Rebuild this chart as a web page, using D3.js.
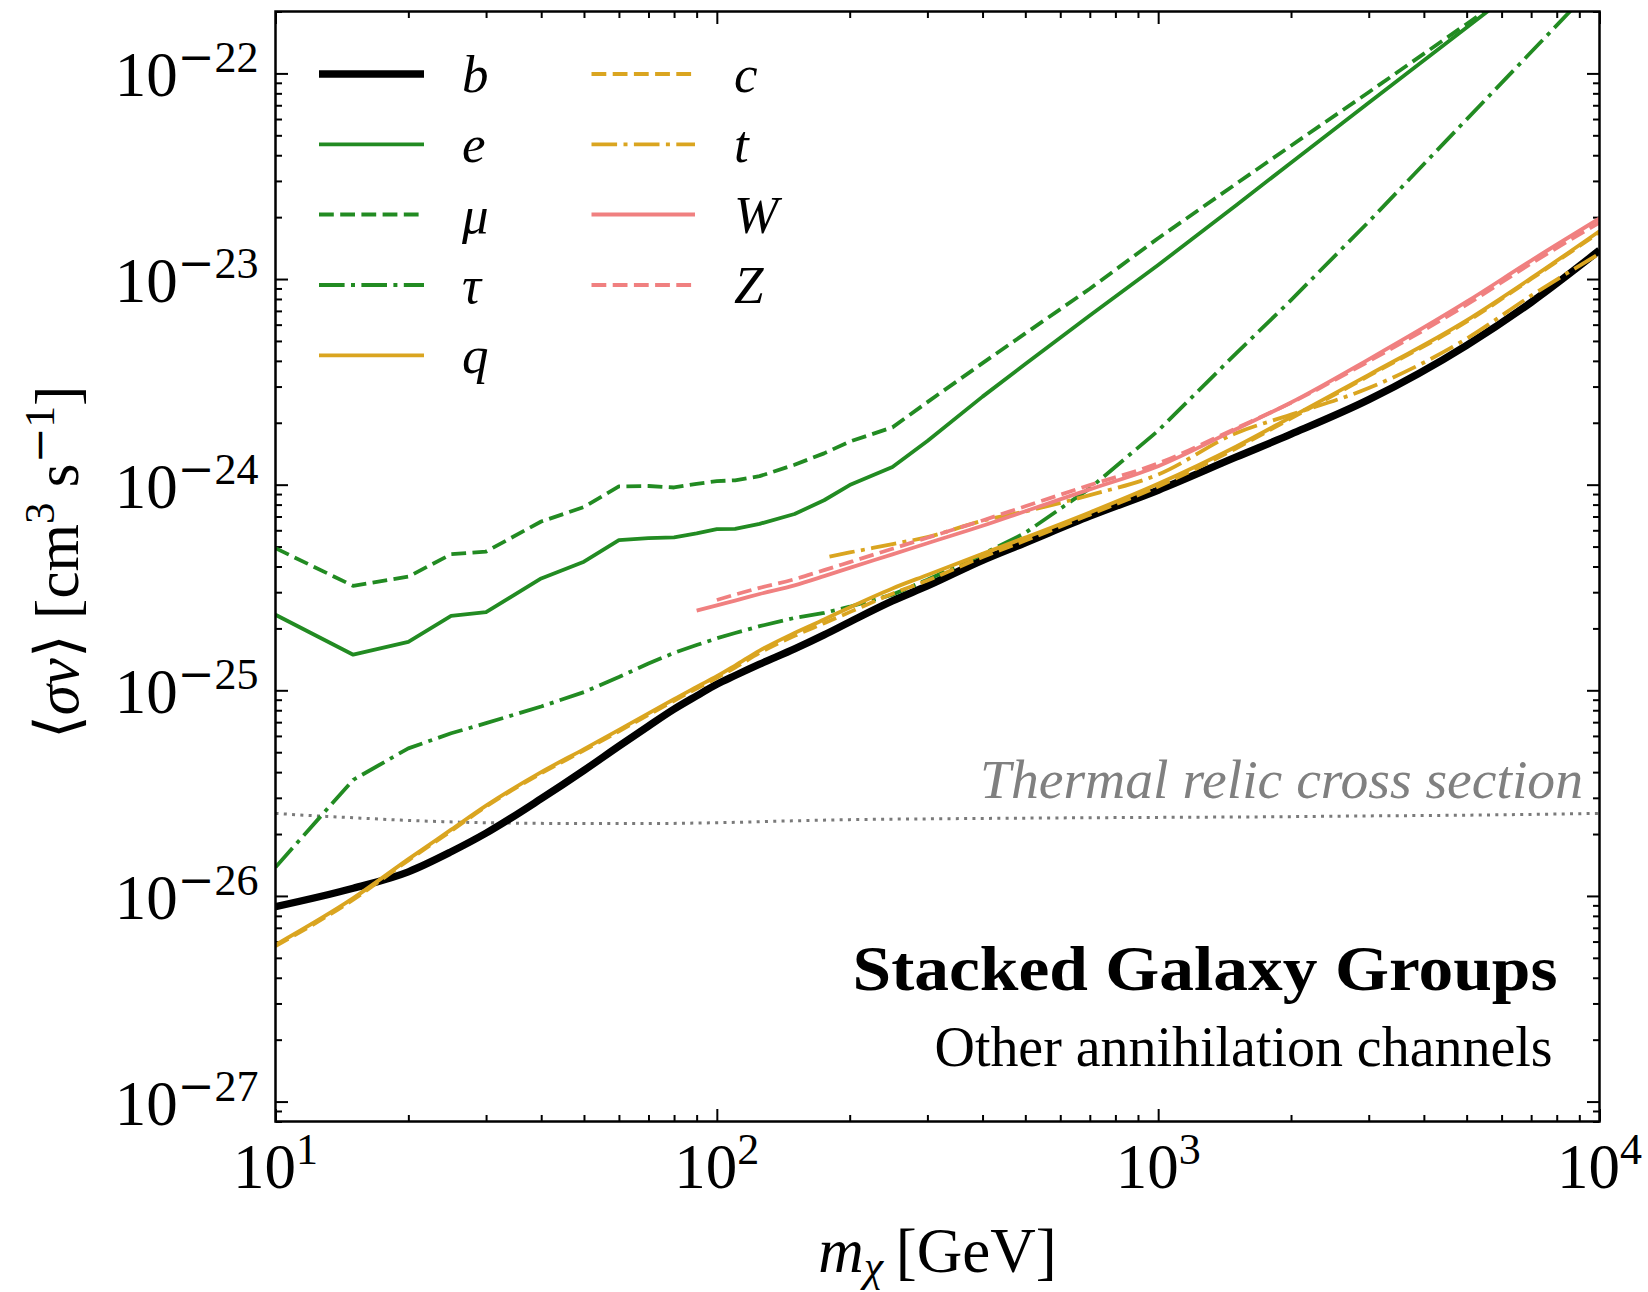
<!DOCTYPE html>
<html>
<head>
<meta charset="utf-8">
<script src="https://cdn.jsdelivr.net/npm/d3@7"></script>
<style>
  html, body { margin: 0; padding: 0; background: #ffffff; }
  svg { display: block; }
</style>
</head>
<body>
<svg id="chart" width="1648" height="1292"></svg>
<script>
// ---- Data: 95% C.L. limits on <sigma v> [cm^3 s^-1] vs dark-matter mass [GeV] ----
const massGrid = [10, 15, 20, 25, 30, 40, 50, 60, 70, 80, 90, 100, 110, 125, 150, 175, 200,
                  250, 300, 400, 500, 700, 1000, 1500, 2000, 3000, 5000, 7000, 10000];

const sigmaB = [8.87e-27, 1.09e-26, 1.31e-26, 1.64e-26, 2.02e-26, 2.97e-26, 4.08e-26, 5.35e-26,
                6.7e-26, 8.1e-26, 9.4e-26, 1.07e-25, 1.18e-25, 1.34e-25, 1.59e-25, 1.86e-25, 2.15e-25,
                2.72e-25, 3.22e-25, 4.29e-25, 5.22e-25, 7.03e-25, 9.4e-25, 1.36e-24, 1.76e-24,
                2.59e-24, 4.76e-24, 7.7e-24, 1.38e-23];

const sigmaE = [2.33e-25, 1.49e-25, 1.72e-25, 2.30e-25, 2.40e-25, 3.50e-25, 4.22e-25, 5.38e-25,
                5.50e-25, 5.54e-25, 5.80e-25, 6.08e-25, 6.10e-25, 6.45e-25, 7.20e-25, 8.40e-25, 9.95e-25,
                1.22e-24, 1.63e-24, 2.68e-24, 3.86e-24, 6.64e-24, 1.17e-23, 2.28e-23, 3.68e-23,
                7.2e-23, 1.67e-22, 2.92e-22, 5.25e-22];

const sigmaMu = [4.91e-25, 3.22e-25, 3.57e-25, 4.59e-25, 4.73e-25, 6.62e-25, 7.78e-25, 9.80e-25,
                 9.85e-25, 9.69e-25, 1.01e-24, 1.04e-24, 1.05e-24, 1.10e-24, 1.25e-24, 1.42e-24, 1.62e-24,
                 1.90e-24, 2.52e-24, 3.90e-24, 5.44e-24, 8.97e-24, 1.58e-23, 2.90e-23, 4.45e-23,
                 8.1e-23, 1.74e-22, 2.9e-22, 4.9e-22];

const sigmaTau = [1.38e-26, 3.67e-26, 5.22e-26, 6.18e-26, 6.92e-26, 8.34e-26, 9.8e-26, 1.16e-25,
                  1.35e-25, 1.52e-25, 1.66e-25, 1.79e-25, 1.90e-25, 2.05e-25, 2.25e-25, 2.38e-25, 2.55e-25,
                  2.92e-25, 3.45e-25, 4.59e-25, 5.83e-25, 9.6e-25, 1.83e-24, 4.34e-24, 7.9e-24,
                  1.9e-23, 5.98e-23, 1.27e-22, 2.83e-22];

const sigmaQ = [5.78e-27, 9.75e-27, 1.51e-26, 2.10e-26, 2.75e-26, 4.0e-26, 5.18e-26, 6.42e-26,
                7.73e-26, 9.05e-26, 1.04e-25, 1.17e-25, 1.32e-25, 1.56e-25, 1.90e-25, 2.21e-25, 2.53e-25,
                3.13e-25, 3.64e-25, 4.61e-25, 5.53e-25, 7.33e-25, 1.01e-24, 1.53e-24, 2.13e-24,
                3.42e-24, 6.3e-24, 1.01e-23, 1.71e-23];

const sigmaC = [5.7e-27, 9.6e-27, 1.49e-26, 2.07e-26, 2.72e-26, 3.95e-26, 5.1e-26, 6.32e-26,
                7.6e-26, 8.9e-26, 1.02e-25, 1.15e-25, 1.29e-25, 1.52e-25, 1.84e-25, 2.12e-25, 2.4e-25,
                2.95e-25, 3.42e-25, 4.45e-25, 5.35e-25, 7.15e-25, 9.8e-25, 1.5e-24, 2.1e-24,
                3.38e-24, 6.2e-24, 1.0e-23, 1.69e-23];

const massTop = [180, 200, 250, 300, 400, 500, 700, 1000, 1500, 2000, 3000, 5000, 7000, 10000];
const sigmaTop = [4.47e-25, 4.68e-25, 5.14e-25, 5.56e-25, 6.68e-25, 7.41e-25, 8.9e-25, 1.12e-24,
                  1.78e-24, 2.19e-24, 2.95e-24, 5.13e-24, 8.3e-24, 1.33e-23];

const massW = [90, 100, 110, 125, 150, 175, 200, 250, 300, 400, 500, 700, 1000, 1500, 2000,
               3000, 5000, 7000, 10000];
const sigmaW = [2.44e-25, 2.59e-25, 2.73e-25, 2.94e-25, 3.24e-25, 3.59e-25, 3.94e-25, 4.58e-25,
                5.19e-25, 6.31e-25, 7.43e-25, 9.49e-25, 1.23e-24, 1.86e-24, 2.51e-24, 4.07e-24,
                7.76e-24, 1.23e-23, 1.97e-23];

const massZ = [100, 110, 125, 150, 175, 200, 250, 300, 400, 500, 700, 1000, 1500, 2000,
               3000, 5000, 7000, 10000];
const sigmaZ = [2.75e-25, 2.92e-25, 3.15e-25, 3.47e-25, 3.84e-25, 4.2e-25, 4.88e-25, 5.52e-25,
                6.7e-25, 7.85e-25, 9.95e-25, 1.27e-24, 1.88e-24, 2.5e-24, 3.98e-24, 7.5e-24,
                1.19e-23, 1.88e-23];

// Thermal relic cross section
const massRelic = [10, 12, 15, 20, 30, 50, 70, 100, 150, 200, 300, 500, 1000, 2000, 3000, 5000, 10000];
const sigmaRelic = [2.52e-26, 2.46e-26, 2.40e-26, 2.33e-26, 2.27e-26, 2.25e-26, 2.25e-26, 2.27e-26,
                    2.32e-26, 2.35e-26, 2.37e-26, 2.39e-26, 2.41e-26, 2.43e-26, 2.45e-26, 2.47e-26, 2.52e-26];

// Axis ticks
const xMajorTicks = [10, 100, 1000, 10000];
const xTickExponents = ["1", "2", "3", "4"];
const yMajorTicks = [1e-27, 1e-26, 1e-25, 1e-24, 1e-23, 1e-22];
const yTickExponents = ["27", "26", "25", "24", "23", "22"];

// Channel labels (legend order)
const channelLabels = ["b", "e", "\u03bc", "\u03c4", "q", "c", "t", "W", "Z"];

// ---- Styles ----
const GREEN = "#228b22", GOLD = "#daa520", PINK = "#f08080";
const DASHED = "14.8,6.4", DASHDOT = "25.6,6.4,4,6.4";
const channelStyles = [
  { color: "#000000", width: 7.4, dash: null },
  { color: GREEN, width: 3.8, dash: null },
  { color: GREEN, width: 3.8, dash: DASHED },
  { color: GREEN, width: 3.8, dash: DASHDOT },
  { color: GOLD,  width: 3.8, dash: null },
  { color: GOLD,  width: 3.8, dash: DASHED },
  { color: GOLD,  width: 3.8, dash: DASHDOT },
  { color: PINK,  width: 3.8, dash: null },
  { color: PINK,  width: 3.8, dash: DASHED }
];
const channelData = [
  [massGrid, sigmaB, d3.curveMonotoneX],
  [massGrid, sigmaE, d3.curveLinear],
  [massGrid, sigmaMu, d3.curveLinear],
  [massGrid, sigmaTau, d3.curveLinear],
  [massGrid, sigmaQ, d3.curveMonotoneX],
  [massGrid, sigmaC, d3.curveMonotoneX],
  [massTop, sigmaTop, d3.curveMonotoneX],
  [massW, sigmaW, d3.curveMonotoneX],
  [massZ, sigmaZ, d3.curveMonotoneX]
];

// ---- Layout ----
const plot = { left: 275.5, right: 1599.5, top: 11.5, bottom: 1121.5 };
const SERIF = "'Liberation Serif', 'Times New Roman', serif";
const MINUS_FONT = "'DejaVu Serif', serif";

const x = d3.scaleLog().domain([10, 1e4]).range([plot.left, plot.right]);
const y = d3.scaleLog().domain([8e-28, 2e-22]).range([plot.bottom, plot.top]);

const svg = d3.select("#chart");
svg.append("rect").attr("width", 1648).attr("height", 1292).attr("fill", "#ffffff");

svg.append("defs").append("clipPath").attr("id", "plot-area")
  .append("rect")
  .attr("x", plot.left).attr("y", plot.top)
  .attr("width", plot.right - plot.left).attr("height", plot.bottom - plot.top);

// ---- Ticks (pointing inward on all four sides) ----
const xMinor = [];
[10, 100, 1000].forEach(d => { for (let k = 2; k <= 9; k++) xMinor.push(d * k); });
const yMinor = [];
for (let p = -28; p <= -22; p++) {
  for (let k = 2; k <= 9; k++) {
    const v = k * Math.pow(10, p);
    if (v >= 8e-28 && v <= 2e-22) yMinor.push(v);
  }
}

function addAxis(gen, tx, ty) {
  const g = svg.append("g").attr("transform", `translate(${tx},${ty})`).call(gen);
  g.select(".domain").remove();
  g.selectAll(".tick line").attr("stroke", "#000").attr("stroke-width", 2);
  g.selectAll(".tick text").remove();
}
const MAJ = 12.5, MIN = 6.5;
addAxis(d3.axisBottom(x).tickValues(xMajorTicks).tickSizeInner(-MAJ).tickSizeOuter(0), 0, plot.bottom);
addAxis(d3.axisBottom(x).tickValues(xMinor).tickSizeInner(-MIN).tickSizeOuter(0), 0, plot.bottom);
addAxis(d3.axisTop(x).tickValues(xMajorTicks).tickSizeInner(-MAJ).tickSizeOuter(0), 0, plot.top);
addAxis(d3.axisTop(x).tickValues(xMinor).tickSizeInner(-MIN).tickSizeOuter(0), 0, plot.top);
addAxis(d3.axisLeft(y).tickValues(yMajorTicks).tickSizeInner(-MAJ).tickSizeOuter(0), plot.left, 0);
addAxis(d3.axisLeft(y).tickValues(yMinor).tickSizeInner(-MIN).tickSizeOuter(0), plot.left, 0);
addAxis(d3.axisRight(y).tickValues(yMajorTicks).tickSizeInner(-MAJ).tickSizeOuter(0), plot.right, 0);
addAxis(d3.axisRight(y).tickValues(yMinor).tickSizeInner(-MIN).tickSizeOuter(0), plot.right, 0);

// ---- Tick labels (powers of ten) ----
const TICK_FS = 63, SUP_FS = 44, SUP_RISE = 24;
xMajorTicks.forEach((v, i) => {
  const t = svg.append("text")
    .attr("x", x(v)).attr("y", plot.bottom + 66)
    .attr("text-anchor", "middle")
    .attr("font-family", SERIF).attr("fill", "#000");
  t.append("tspan").attr("font-size", TICK_FS).text("10");
  t.append("tspan").attr("font-size", SUP_FS).attr("dy", -SUP_RISE).text(xTickExponents[i]);
});
yMajorTicks.forEach((v, i) => {
  const t = svg.append("text")
    .attr("x", plot.left - 17).attr("y", y(v) + 23)
    .attr("text-anchor", "end")
    .attr("font-family", SERIF).attr("fill", "#000");
  t.append("tspan").attr("font-size", TICK_FS).text("10");
  t.append("tspan").attr("font-size", SUP_FS).attr("font-family", MINUS_FONT)
    .attr("font-weight", 300).attr("dy", -SUP_RISE).text("\u2212");
  t.append("tspan").attr("font-size", SUP_FS).text(yTickExponents[i]);
});

// ---- Axis titles ----
const xt = svg.append("text")
  .attr("x", (plot.left + plot.right) / 2).attr("y", 1272)
  .attr("text-anchor", "middle").attr("font-family", SERIF).attr("fill", "#000");
xt.append("tspan").attr("font-size", 63).attr("font-style", "italic").text("m");
xt.append("tspan").attr("font-size", 44).attr("font-style", "italic").attr("dy", 9).text("\u03c7");
xt.append("tspan").attr("font-size", 63).attr("dy", -9).text("\u2009[GeV]");

const yt = svg.append("text")
  .attr("transform", `translate(78,${(plot.top + plot.bottom) / 2 - 4}) rotate(-90)`)
  .attr("text-anchor", "middle").attr("font-family", SERIF).attr("fill", "#000");
yt.append("tspan").attr("font-size", 61).text("\u27e8");
yt.append("tspan").attr("font-size", 61).attr("font-style", "italic").text("\u03c3v");
yt.append("tspan").attr("font-size", 61).text("\u27e9 [cm");
yt.append("tspan").attr("font-size", 43).attr("dy", -24).text("3");
yt.append("tspan").attr("font-size", 61).attr("dy", 24).text(" s");
yt.append("tspan").attr("font-size", 43).attr("font-family", MINUS_FONT).attr("dy", -24).text("\u2212");
yt.append("tspan").attr("font-size", 43).text("1");
yt.append("tspan").attr("font-size", 61).attr("dy", 24).text("]");

// ---- Curves ----
const lines = svg.append("g").attr("clip-path", "url(#plot-area)");

const relicLine = d3.line().x(d => x(d[0])).y(d => y(d[1])).curve(d3.curveMonotoneX);
lines.append("path")
  .datum(massRelic.map((m, i) => [m, sigmaRelic[i]]))
  .attr("d", relicLine)
  .attr("fill", "none").attr("stroke", "#7a7a7a")
  .attr("stroke-width", 3).attr("stroke-dasharray", "3,5.3");

channelData.forEach(([masses, sigmas, curve], i) => {
  const st = channelStyles[i];
  const gen = d3.line().x(d => x(d[0])).y(d => y(d[1])).curve(curve);
  lines.append("path")
    .datum(masses.map((m, j) => [m, sigmas[j]]))
    .attr("d", gen)
    .attr("fill", "none")
    .attr("stroke", st.color)
    .attr("stroke-width", st.width)
    .attr("stroke-linejoin", "round")
    .attr("stroke-linecap", "butt")
    .attr("stroke-dasharray", st.dash);
});

// ---- Frame ----
svg.append("rect")
  .attr("x", plot.left).attr("y", plot.top)
  .attr("width", plot.right - plot.left).attr("height", plot.bottom - plot.top)
  .attr("fill", "none").attr("stroke", "#000").attr("stroke-width", 2.5);

// ---- Legend (two columns) ----
const legendRows = [74, 144.3, 214.5, 285, 355.3];
const legendCols = [
  { x1: 319, x2: 424, tx: 462 },
  { x1: 591.5, x2: 695, tx: 734 }
];
const legend = svg.append("g");
channelLabels.forEach((label, i) => {
  const col = legendCols[i < 5 ? 0 : 1];
  const row = legendRows[i < 5 ? i : i - 5];
  const st = channelStyles[i];
  legend.append("line")
    .attr("x1", col.x1).attr("x2", col.x2).attr("y1", row).attr("y2", row)
    .attr("stroke", st.color).attr("stroke-width", st.width)
    .attr("stroke-dasharray", st.dash);
  legend.append("text")
    .attr("x", col.tx).attr("y", row + 18)
    .attr("font-family", SERIF).attr("font-style", "italic")
    .attr("font-size", 53).attr("fill", "#000")
    .text(label);
});

// ---- Annotations ----
svg.append("text")
  .attr("x", 1583).attr("y", 798)
  .attr("text-anchor", "end").attr("font-family", SERIF).attr("font-style", "italic")
  .attr("font-size", 54).attr("fill", "#808080")
  .attr("textLength", 603).attr("lengthAdjust", "spacingAndGlyphs")
  .text("Thermal relic cross section");

svg.append("text")
  .attr("x", 1557.5).attr("y", 990)
  .attr("text-anchor", "end").attr("font-family", SERIF).attr("font-weight", "bold")
  .attr("font-size", 64).attr("fill", "#000")
  .attr("textLength", 705).attr("lengthAdjust", "spacingAndGlyphs")
  .text("Stacked Galaxy Groups");

svg.append("text")
  .attr("x", 1552.5).attr("y", 1066)
  .attr("text-anchor", "end").attr("font-family", SERIF)
  .attr("font-size", 57).attr("fill", "#000")
  .attr("textLength", 618).attr("lengthAdjust", "spacingAndGlyphs")
  .text("Other annihilation channels");
</script>
</body>
</html>
